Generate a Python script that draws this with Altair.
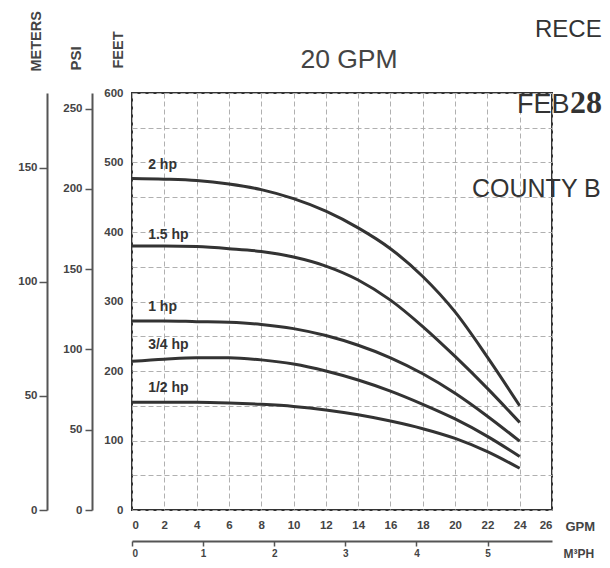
import altair as alt
import pandas as pd

# ---- data ----
gpm = [0, 2, 4, 6, 8, 10, 12, 14, 16, 18, 20, 22, 24]
hp_2 = [477, 476, 474, 469, 461, 448, 430, 406, 376, 336, 285, 220, 150]
hp_15 = [380, 380, 379, 376, 372, 364, 351, 331, 302, 264, 221, 175, 126]
hp_1 = [272, 272, 271, 270, 267, 261, 251, 237, 219, 196, 168, 135, 99]
hp_34 = [214, 217, 219, 219, 216, 210, 200, 187, 171, 152, 131, 106, 77]
hp_12 = [155, 155, 155, 154, 152, 149, 144, 137, 128, 117, 103, 84, 60]
series_names = ["2 hp", "1.5 hp", "1 hp", "3/4 hp", "1/2 hp"]
series_values = [hp_2, hp_15, hp_1, hp_34, hp_12]

label_gpm = [1, 1, 1, 1, 1]
label_feet = [496, 396, 292, 237, 175]

x_ticks = list(range(0, 27, 2))
feet_ticks = list(range(0, 601, 50))
psi_ticks = [0, 50, 100, 150, 200, 250]
meter_ticks = [0, 50, 100, 150]
m3ph_ticks = [0, 1, 2, 3, 4, 5]

FT_PER_PSI = 2.31
FT_PER_M = 3.2808
GPM_PER_M3H = 4.4029
GPM_MAX = 26
FEET_MAX = 600

rows = []
for name, vals in zip(series_names, series_values):
    for g, f in zip(gpm, vals):
        rows.append({"gpm": g, "feet": f, "series": name})
curves = pd.DataFrame(rows)
labels = pd.DataFrame({"gpm": label_gpm, "feet": label_feet, "series": series_names})

FONT = "Liberation Sans"
TXT = "#444444"

x_scale = alt.Scale(domain=[0, GPM_MAX], nice=False, zero=True)
y_scale = alt.Scale(domain=[0, FEET_MAX], nice=False, zero=True)

x_axis = alt.Axis(
    values=x_ticks, title="GPM", domain=False, ticks=False, labelPadding=9,
    labelOverlap=False,
    labelFont=FONT, labelFontSize=11.5, labelFontWeight="bold", labelColor=TXT,
    grid=True, gridColor="#b0b0b0", gridDash=[5, 3], gridWidth=1,
    titleFont=FONT, titleFontSize=13, titleFontWeight="bold", titleColor=TXT,
    titleX=433, titleY=16, titleAlign="left", titleBaseline="middle",
)
y_axis = alt.Axis(
    values=feet_ticks, labelExpr="datum.value % 100 == 0 ? datum.label : ''",
    labelOverlap=False,
    title="FEET", domain=False, ticks=False, labelPadding=9,
    labelFont=FONT, labelFontSize=11.5, labelFontWeight="bold", labelColor=TXT,
    grid=True, gridColor="#b0b0b0", gridDash=[5, 3], gridWidth=1,
    titleFont=FONT, titleFontSize=14.5, titleFontWeight="bold", titleColor=TXT,
    titleAngle=270, titleX=-7, titleY=-25, titleAlign="left", titleBaseline="bottom",
)

lines = alt.Chart(curves).mark_line(
    color="#333333", strokeWidth=3, interpolate="monotone"
).encode(
    x=alt.X("gpm:Q", scale=x_scale, axis=x_axis),
    y=alt.Y("feet:Q", scale=y_scale, axis=y_axis),
    detail="series:N",
)

hp_labels = alt.Chart(labels).mark_text(
    align="left", baseline="middle", font=FONT, fontSize=14, fontWeight="bold", color="#333333"
).encode(
    x=alt.X("gpm:Q", scale=x_scale, axis=x_axis),
    y=alt.Y("feet:Q", scale=y_scale, axis=y_axis),
    text="series:N",
)

title_txt = alt.Chart(pd.DataFrame({"t": ["20 GPM"]})).mark_text(
    align="center", baseline="alphabetic", font=FONT, fontSize=26.5, color=TXT
).encode(x=alt.value(217), y=alt.value(-25), text="t:N")
rece = alt.Chart(pd.DataFrame({"t": ["RECE"]})).mark_text(
    align="left", baseline="alphabetic", font=FONT, fontSize=24, color="#333333"
).encode(x=alt.value(403), y=alt.value(-56), text="t:N")
feb = alt.Chart(pd.DataFrame({"t": ["FEB"]})).mark_text(
    align="left", baseline="alphabetic", font=FONT, fontSize=27, color="#333333"
).encode(x=alt.value(385), y=alt.value(20), text="t:N")
day = alt.Chart(pd.DataFrame({"t": ["28"]})).mark_text(
    align="left", baseline="alphabetic", font="Liberation Serif", fontSize=32,
    fontWeight="bold", color="#333333"
).encode(x=alt.value(438), y=alt.value(20), text="t:N")
county = alt.Chart(pd.DataFrame({"t": ["COUNTY B"]})).mark_text(
    align="left", baseline="alphabetic", font=FONT, fontSize=25, color="#333333"
).encode(x=alt.value(340), y=alt.value(104), text="t:N")

main = alt.layer(lines, hp_labels, title_txt, rece, feb, day, county)

psi_layer = alt.Chart(pd.DataFrame({"psi": psi_ticks})).mark_point(opacity=0).encode(
    y=alt.Y("psi:Q", scale=alt.Scale(domain=[0, FEET_MAX / FT_PER_PSI], nice=False, zero=True),
            axis=alt.Axis(orient="left", offset=40, values=psi_ticks, title="PSI",
                          labelOverlap=False,
                          domainColor="#555555", domainWidth=2, tickColor="#555555", tickWidth=1.5,
                          tickSize=7, labelPadding=3, grid=False,
                          labelFont=FONT, labelFontSize=11.5, labelFontWeight="bold", labelColor=TXT,
                          titleFont=FONT, titleFontSize=15, titleFontWeight="bold", titleColor=TXT,
                          titleAngle=270, titleX=-9, titleY=-23, titleAlign="left",
                          titleBaseline="bottom"))
)

meter_layer = alt.Chart(pd.DataFrame({"m": meter_ticks})).mark_point(opacity=0).encode(
    y=alt.Y("m:Q", scale=alt.Scale(domain=[0, FEET_MAX / FT_PER_M], nice=False, zero=True),
            axis=alt.Axis(orient="left", offset=85, values=meter_ticks, title="METERS",
                          labelOverlap=False,
                          domainColor="#555555", domainWidth=2, tickColor="#555555", tickWidth=1.5,
                          tickSize=8, labelPadding=2, grid=False,
                          labelFont=FONT, labelFontSize=11.5, labelFontWeight="bold", labelColor=TXT,
                          titleFont=FONT, titleFontSize=14.5, titleFontWeight="bold", titleColor=TXT,
                          titleAngle=270, titleX=-4, titleY=-22, titleAlign="left",
                          titleBaseline="bottom"))
)

m3_layer = alt.Chart(pd.DataFrame({"m3": m3ph_ticks})).mark_point(opacity=0).encode(
    x=alt.X("m3:Q", scale=alt.Scale(domain=[0, GPM_MAX / GPM_PER_M3H], nice=False, zero=True),
            axis=alt.Axis(orient="bottom", offset=31, values=m3ph_ticks, title="M³PH",
                          labelOverlap=False,
                          domainColor="#555555", domainWidth=2, tickColor="#555555", tickWidth=1.5,
                          tickSize=5, labelPadding=2, grid=False,
                          labelFont=FONT, labelFontSize=10, labelFontWeight="bold", labelColor=TXT,
                          titleFont=FONT, titleFontSize=12, titleFontWeight="bold", titleColor=TXT,
                          titleX=431, titleY=12, titleAlign="left", titleBaseline="middle"))
)

chart = alt.layer(main, psi_layer, meter_layer, m3_layer).resolve_scale(
    x="independent", y="independent"
).properties(
    width=420, height=417,
    padding={"left": 124, "top": 85, "right": 50, "bottom": 50},
    autosize=alt.AutoSizeParams(type="none"),
).configure_view(stroke="#333333", strokeWidth=2).configure_axis(labelOverlap=False)

chart.save("out.html", embed_options={"renderer": "svg", "actions": False})
